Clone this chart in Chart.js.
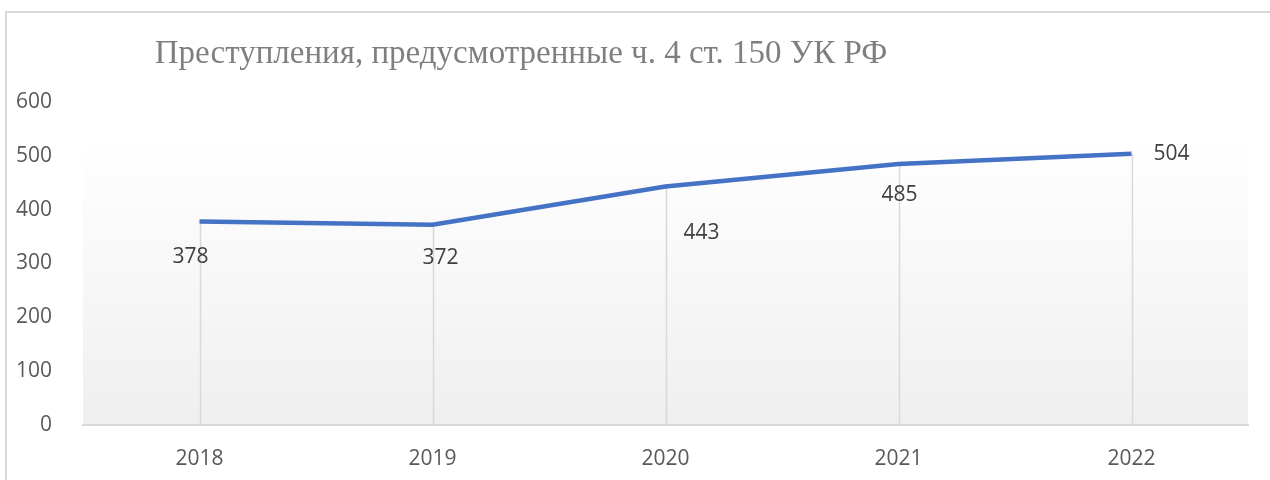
<!DOCTYPE html>
<html>
<head>
    <meta charset="utf-8">
    <title>Преступления, ч. 4 ст. 150 УК РФ</title>
    <script src="https://cdn.jsdelivr.net/npm/chart.js"></script>
    <style>
        html, body { margin: 0; padding: 0; background: #fff; }
        #wrap { position: relative; width: 1270px; height: 480px; overflow: hidden; }
        #frame { position: absolute; left: 5px; top: 11px; width: 1300px; height: 500px;
                 border: 2px solid #d9d9d9; box-sizing: border-box; }
        canvas { position: absolute; left: 0; top: 0; }
    </style>
</head>
<body>
<div id="wrap">
    <div id="frame"></div>
    <canvas id="crimeChart" width="1270" height="480"></canvas>
</div>
<script>
    const years = ['2018', '2019', '2020', '2021', '2022'];
    const crimes = [378, 372, 443, 485, 504];
    const yTicks = [0, 100, 200, 300, 400, 500, 600];
    const chartTitle = 'Преступления, предусмотренные ч. 4 ст. 150 УК РФ';

    const tickFont = { family: '"Open Sans", "Noto Sans", sans-serif', size: 21 };

    // gradient background of the plot area
    const plotBg = {
        id: 'plotBg',
        beforeDraw(chart) {
            const { ctx, chartArea: a } = chart;
            const g = ctx.createLinearGradient(0, a.top, 0, a.bottom);
            g.addColorStop(0, '#ffffff');
            g.addColorStop(0.12, '#ffffff');
            g.addColorStop(1, '#efefef');
            ctx.save();
            ctx.fillStyle = g;
            ctx.fillRect(a.left, a.top + 40, a.right - a.left, a.bottom - a.top - 40);
            ctx.restore();
        }
    };

    // vertical drop lines from each point down to the axis
    const dropLines = {
        id: 'dropLines',
        beforeDatasetsDraw(chart) {
            const { ctx, chartArea: a } = chart;
            const meta = chart.getDatasetMeta(0);
            ctx.save();
            ctx.strokeStyle = '#d9d9d9';
            ctx.lineWidth = 1.5;
            meta.data.forEach(p => {
                ctx.beginPath();
                ctx.moveTo(Math.round(p.x) + 0.5, p.y);
                ctx.lineTo(Math.round(p.x) + 0.5, a.bottom);
                ctx.stroke();
            });
            ctx.restore();
        }
    };

    // data labels, placed like the Excel original
    const labelOffsets = [[-9, 36], [8, 33], [36, 46], [1, 31], [40, 0]];
    const dataLabels = {
        id: 'dataLabels',
        afterDatasetsDraw(chart) {
            const { ctx } = chart;
            const meta = chart.getDatasetMeta(0);
            ctx.save();
            ctx.font = tickFont.size + 'px ' + tickFont.family;
            ctx.fillStyle = '#404040';
            ctx.textAlign = 'center';
            ctx.textBaseline = 'middle';
            meta.data.forEach((p, i) => {
                const off = labelOffsets[i];
                ctx.fillText(String(crimes[i]), p.x + off[0], p.y + off[1]);
            });
            ctx.restore();
        }
    };

    const titlePlugin = {
        id: 'titleText',
        afterDraw(chart) {
            const { ctx } = chart;
            ctx.save();
            ctx.font = '33px "Liberation Serif", "Times New Roman", serif';
            ctx.fillStyle = '#7f7f7f';
            ctx.textAlign = 'center';
            ctx.textBaseline = 'alphabetic';
            ctx.fillText(chartTitle, 521, 63);
            ctx.restore();
        }
    };

    new Chart(document.getElementById('crimeChart'), {
        type: 'line',
        data: {
            labels: years,
            datasets: [{
                data: crimes,
                borderColor: '#4472c4',
                borderWidth: 4.5,
                pointRadius: 0,
                tension: 0,
                fill: false
            }]
        },
        options: {
            responsive: false,
            animation: false,
            layout: { padding: { top: 102, right: 22, left: 0, bottom: 0 } },
            plugins: {
                legend: { display: false },
                title: { display: false },
                tooltip: { enabled: false }
            },
            scales: {
                x: {
                    offset: true,
                    grid: { display: false },
                    border: { display: true, color: '#d9d9d9', width: 2 },
                    ticks: { color: '#595959', font: tickFont, padding: 13 },
                    afterFit(scale) { scale.height = 55; }
                },
                y: {
                    min: 0,
                    max: 600,
                    afterBuildTicks(scale) { scale.ticks = yTicks.map(v => ({ value: v })); },
                    grid: { display: false },
                    border: { display: false },
                    ticks: { color: '#595959', font: tickFont, padding: 23 },
                    afterFit(scale) { scale.width = 83; }
                }
            }
        },
        plugins: [plotBg, dropLines, dataLabels, titlePlugin]
    });
</script>
</body>
</html>
